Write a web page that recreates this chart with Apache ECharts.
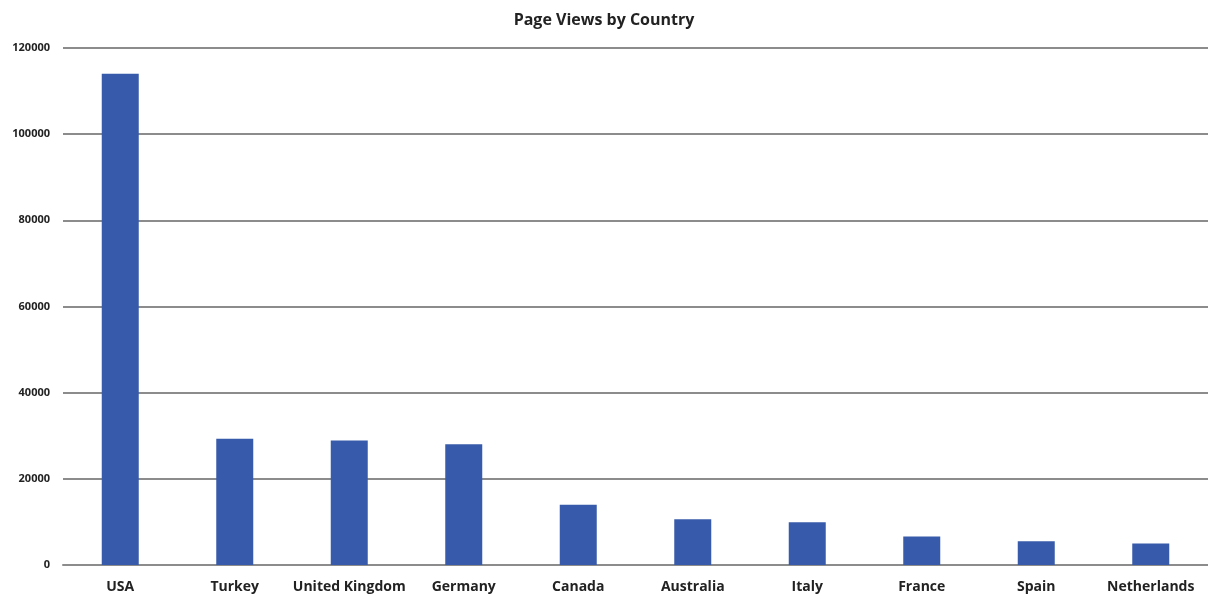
<!DOCTYPE html>
<html>
<head>
<meta charset="utf-8">
<script src="https://cdn.jsdelivr.net/npm/echarts@6/dist/echarts.min.js"></script>
<style>
  html, body { margin: 0; padding: 0; background: #fff; }
  #chart { width: 1208px; height: 597px; }
</style>
</head>
<body>
<div id="chart"></div>
<script>
// Page views per country
const countries = ['USA', 'Turkey', 'United Kingdom', 'Germany', 'Canada', 'Australia', 'Italy', 'France', 'Spain', 'Netherlands'];
const pageViews = [114000, 29300, 28900, 28000, 14000, 10600, 9900, 6600, 5500, 5000];
const yMax = 120000;
const yStep = 20000;

const chart = echarts.init(document.getElementById('chart'));
const font = '"Open Sans", "Noto Sans", sans-serif';

chart.setOption({
  backgroundColor: '#ffffff',
  animation: false,
  title: {
    text: 'Page Views by Country',
    left: 'center',
    top: 7,
    textStyle: { fontFamily: font, fontSize: 16, fontWeight: 'bold', color: '#222' }
  },
  grid: { left: 63, width: 1150, top: 48, bottom: 32, containLabel: false },
  xAxis: {
    type: 'category',
    data: countries,
    axisLine: { show: true, lineStyle: { color: '#8c8c8c', width: 2 } },
    axisTick: { show: false },
    axisLabel: { interval: 0, fontFamily: font, fontSize: 14, fontWeight: 'bold', color: '#222', margin: 15 }
  },
  yAxis: {
    type: 'value',
    min: 0,
    max: yMax,
    interval: yStep,
    axisLine: { show: false },
    axisTick: { show: false },
    axisLabel: {
      formatter: v => String(v),
      fontFamily: font, fontSize: 11, fontWeight: 'bold', color: '#222', margin: 13
    },
    splitLine: { lineStyle: { color: '#8c8c8c', width: 2 } }
  },
  series: [{
    type: 'bar',
    data: pageViews,
    barWidth: 37,
    itemStyle: { color: '#375BAA' }
  }]
});
</script>
</body>
</html>
